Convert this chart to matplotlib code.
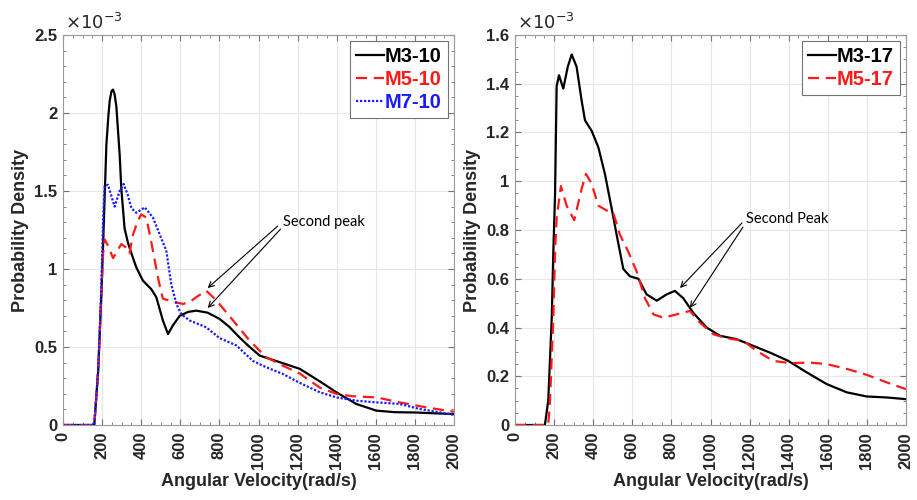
import numpy as np
import matplotlib.pyplot as plt
from matplotlib.ticker import MultipleLocator

plt.rcParams['font.family'] = ['Liberation Sans', 'DejaVu Sans']

# ---- left panel data (density in units of 1e-3) ----
v_m3_10 = [0, 100, 160, 180, 195, 205, 222, 232, 239, 248, 256, 264, 273, 290, 298, 315, 332,
           350, 375, 409, 452, 477, 511, 537, 563, 597, 640, 682, 740, 801, 850, 904, 955, 1006,
           1091, 1211, 1313, 1398, 1500, 1603, 1700, 1807, 1900, 2000]
d_m3_10 = [0, 0, 0, 0.35, 0.8, 1.15, 1.80, 1.98, 2.08, 2.14, 2.15, 2.12, 2.04, 1.73, 1.52,
           1.26, 1.17, 1.10, 1.01, 0.925, 0.87, 0.82, 0.67, 0.583, 0.64, 0.70, 0.725, 0.733,
           0.72, 0.68, 0.63, 0.56, 0.50, 0.445, 0.41, 0.36, 0.28, 0.21, 0.135, 0.092, 0.082,
           0.08, 0.075, 0.07]

v_m5_10 = [0, 100, 160, 180, 195, 205, 213, 230, 256, 280, 298, 320, 340, 358, 380, 400, 426,
           452, 470, 490, 511, 563, 614, 650, 682, 733, 784, 870, 955, 1040, 1125, 1211, 1313,
           1398, 1483, 1603, 1722, 1858, 2000]
d_m5_10 = [0, 0, 0, 0.35, 0.8, 1.1, 1.19, 1.15, 1.07, 1.12, 1.16, 1.14, 1.10, 1.22, 1.30, 1.35,
           1.33, 1.17, 1.05, 0.92, 0.81, 0.79, 0.776, 0.79, 0.82, 0.86, 0.80, 0.67, 0.54, 0.434,
           0.38, 0.33, 0.24, 0.20, 0.184, 0.177, 0.145, 0.113, 0.085]

v_m7_10 = [0, 100, 160, 180, 195, 205, 213, 230, 264, 290, 310, 330, 350, 375, 418, 460, 511,
           528, 554, 580, 605, 648, 733, 801, 887, 972, 1040, 1125, 1211, 1313, 1398, 1500,
           1603, 1722, 1824, 2000]
d_m7_10 = [0, 0, 0, 0.35, 0.85, 1.3, 1.53, 1.54, 1.40, 1.50, 1.545, 1.48, 1.39, 1.36, 1.395,
           1.33, 1.17, 1.12, 0.90, 0.776, 0.71, 0.67, 0.626, 0.557, 0.51, 0.41, 0.37, 0.327,
           0.27, 0.21, 0.177, 0.156, 0.145, 0.135, 0.103, 0.065]

# ---- right panel data (density in units of 1e-3) ----
v_m3_17 = [0, 100, 153, 170, 188, 196, 205, 213, 225, 247, 270, 290, 315, 341, 358, 392, 426,
           460, 494, 520, 554, 588, 631, 673, 725, 776, 818, 861, 912, 980, 1049, 1134, 1202,
           1304, 1398, 1492, 1594, 1697, 1799, 1901, 2000]
d_m3_17 = [0, 0, 0, 0.1, 0.44, 0.71, 0.95, 1.39, 1.435, 1.38, 1.47, 1.52, 1.47, 1.33, 1.25,
           1.207, 1.14, 1.03, 0.89, 0.78, 0.64, 0.61, 0.60, 0.536, 0.51, 0.536, 0.55, 0.52,
           0.46, 0.40, 0.366, 0.352, 0.33, 0.297, 0.263, 0.216, 0.168, 0.134, 0.117, 0.113,
           0.106]

v_m5_17 = [0, 100, 170, 179, 196, 205, 213, 235, 264, 303, 341, 363, 392, 426, 469, 503, 537,
           580, 622, 665, 708, 759, 827, 895, 946, 1015, 1083, 1168, 1236, 1321, 1407, 1509,
           1594, 1697, 1799, 1901, 2000]
d_m5_17 = [0, 0, 0, 0.1, 0.44, 0.71, 0.85, 0.98, 0.90, 0.84, 0.97, 1.03, 0.99, 0.90, 0.88,
           0.87, 0.78, 0.71, 0.63, 0.52, 0.454, 0.44, 0.454, 0.468, 0.42, 0.372, 0.356, 0.345,
           0.304, 0.263, 0.254, 0.256, 0.25, 0.23, 0.206, 0.175, 0.147]

xticks = np.arange(0, 2001, 200)


def style_axes(ax, ymax, ymajor, yminor):
    ax.set_xlim(0, 2000)
    ax.set_ylim(0, ymax)
    ax.set_xticks(xticks)
    ax.set_xticklabels([str(t) for t in xticks], rotation=90, fontsize=12, fontweight='bold',
                       color='0.15')
    ax.xaxis.set_minor_locator(MultipleLocator(50))
    ax.yaxis.set_major_locator(MultipleLocator(ymajor))
    ax.yaxis.set_minor_locator(MultipleLocator(yminor))
    ax.yaxis.set_major_formatter(plt.FuncFormatter(lambda y, p: ('%g' % round(y, 3))))
    for lab in ax.get_yticklabels():
        lab.set_fontweight('bold')
    ax.tick_params(which='both', direction='in', top=True, right=True, color='0.45')
    ax.tick_params(which='major', length=4, labelsize=12, labelcolor='0.15')
    ax.tick_params(axis='x', which='major', pad=5)
    ax.tick_params(axis='y', which='major', pad=4)
    ax.tick_params(which='minor', length=2)
    ax.grid(True, which='major', color='0.9', linewidth=0.8)
    for s in ax.spines.values():
        s.set_color('0.6')
        s.set_linewidth(0.8)
    ax.set_xlabel('Angular Velocity(rad/s)', fontsize=13, fontweight='bold', color='0.15',
                  labelpad=3)
    ax.set_ylabel('Probability Density', fontsize=13, fontweight='bold', color='0.15',
                  labelpad=4)
    ax.text(0.005, 1.005, r'$\times10^{-3}$', transform=ax.transAxes, fontsize=13,
            ha='left', va='bottom', color='0.15')


fig = plt.figure(figsize=(9.17, 5.0), dpi=100)
ax1 = fig.add_axes([63 / 917, 75 / 500, 391 / 917, 390 / 500])
ax2 = fig.add_axes([515 / 917, 75 / 500, 391 / 917, 390 / 500])

ax1.plot(v_m3_10, d_m3_10, color='black', lw=1.6, label='M3-10')
ax1.plot(v_m5_10, d_m5_10, color='#ff1a1a', lw=1.6, ls=(0, (5, 3)), label='M5-10')
ax1.plot(v_m7_10, d_m7_10, color='#1a1aff', lw=1.6, ls=(0, (1, 0.8)), label='M7-10')
style_axes(ax1, 2.5, 0.5, 0.1)

ax2.plot(v_m3_17, d_m3_17, color='black', lw=1.6, label='M3-17')
ax2.plot(v_m5_17, d_m5_17, color='#ff1a1a', lw=1.6, ls=(0, (5, 3)), label='M5-17')
style_axes(ax2, 1.6, 0.2, 0.05)

for ax in (ax1, ax2):
    leg = ax.legend(loc='upper right', prop={'weight': 'bold', 'size': 14.5},
                    labelcolor='linecolor', handlelength=1.4, handletextpad=0.05,
                    borderpad=0.3, labelspacing=0.2, fancybox=False,
                    borderaxespad=0.3, framealpha=1)
    leg.get_frame().set_edgecolor('0.45')
    leg.get_frame().set_linewidth(0.8)

arrow = dict(arrowstyle='->', color='black', lw=0.8, shrinkA=0, shrinkB=0)
ax1.text(1124, 1.30, 'Second peak', fontsize=10.5, family=['Lato', 'DejaVu Sans'],
         ha='left', va='center')
ax1.annotate('', xy=(740, 0.878), xytext=(1098, 1.275), arrowprops=arrow)
ax1.annotate('', xy=(740, 0.75), xytext=(1113, 1.256), arrowprops=arrow)

ax2.text(1182, 0.845, 'Second Peak', fontsize=10.5, family=['Lato', 'DejaVu Sans'],
         ha='left', va='center')
ax2.annotate('', xy=(844, 0.562), xytext=(1161, 0.829), arrowprops=arrow)
ax2.annotate('', xy=(895, 0.48), xytext=(1166, 0.812), arrowprops=arrow)

fig.savefig('out.png', dpi=100)
